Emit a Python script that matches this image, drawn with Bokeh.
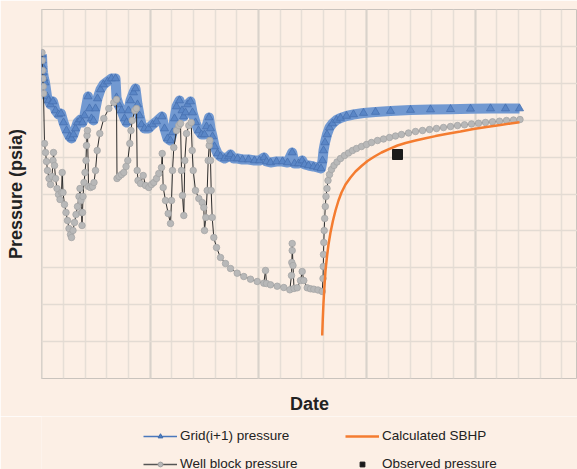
from bokeh.plotting import figure
from bokeh.layouts import column
from bokeh.models import (Range1d, FixedTicker, Legend, LegendItem)
from bokeh.embed import file_html
from bokeh.resources import INLINE

# ---- data (day index, pressure psia) ----
grid_day = [0.5, 0.7, 1, 1.5, 2.5, 3.5, 5.5, 7, 9, 11.5, 14, 17, 19.5, 22, 25, 28, 30, 32, 34, 36,
            39, 41, 43, 46.5, 48, 50, 52, 54, 56, 59, 62, 66, 70, 74, 75, 77, 80, 83, 85, 87,
            89, 92, 94, 96, 98, 100, 103, 107, 111, 115, 120.5, 123, 126, 129, 131, 133, 135, 138, 140.5, 142,
            144, 146, 149, 151, 154, 157, 160, 163, 165, 167.5, 169, 171, 173, 176, 179, 183, 187, 189, 192, 196,
            201, 207, 213, 218, 222.5, 225, 229, 235, 241, 246, 250.7, 253, 257, 260.7, 263, 267, 272, 276, 279.5, 281,
            282, 283.5, 285.5, 288, 291, 295, 299, 305, 312, 322, 334, 349, 369, 389, 409, 429, 449, 464, 478]
grid_psia = [1346, 1340, 1334, 1328, 1322, 1318, 1304, 1300, 1296, 1299, 1290, 1286, 1287, 1278, 1270, 1264, 1262, 1266, 1272, 1278,
             1281, 1278, 1285, 1304, 1292, 1282, 1280, 1292, 1302, 1311, 1316, 1319, 1322, 1322, 1303, 1296, 1290, 1282, 1278, 1290,
             1300, 1308, 1312, 1296, 1285, 1276, 1272, 1272, 1276, 1279, 1284, 1272, 1262, 1260, 1268, 1282, 1294, 1300, 1290, 1284,
             1288, 1296, 1299, 1288, 1278, 1270, 1266, 1266, 1274, 1283, 1272, 1264, 1254, 1247, 1244, 1242, 1244, 1246, 1242, 1242,
             1241, 1241, 1240, 1240, 1243, 1239, 1238, 1239, 1239, 1238, 1248, 1237, 1237, 1240, 1236, 1235, 1234, 1233, 1232, 1240,
             1250, 1258, 1266, 1273, 1277, 1280.5, 1282.5, 1284.5, 1286, 1287.5, 1288.5, 1289.5, 1290.5, 1291, 1291.3, 1291.7, 1292, 1292, 1292]

well_day = [0.5, 0.7, 1, 1.3, 1.7, 2, 3, 4, 5, 6, 7.5, 9, 10.5, 11.5, 12, 13, 14, 15.5, 17, 18.5,
            20, 20.7, 21.5, 23, 24.5, 26, 27.5, 29, 30, 31.5, 33, 34.5, 36, 37.5, 38.5, 39.5, 40, 40.5, 41, 41.5,
            42.5, 43.5, 44.5, 45, 45.5, 46, 47, 49, 51, 52.5, 54, 55.7, 58.3, 62.3, 67.3, 72.3, 75, 75.5, 77.5, 80,
            82.3, 84.5, 86.3, 88.3, 89.5, 90.7, 93.3, 95, 95.7, 96.5, 99, 101.7, 104, 107.3, 110, 112.3, 115, 117.3, 120, 120.7,
            121.7, 124, 126.7, 129, 130, 131, 132.3, 135, 137.3, 139, 140, 141, 142.3, 143.3, 145, 147.3, 149.7, 150.7, 151.7, 154,
            157.3, 160.7, 162.3, 163, 164.3, 165.7, 166.7, 167.7, 168.3, 169, 169.7, 170.7, 172.3, 175, 179, 184, 189, 195.7, 202.3, 209,
            215.7, 222.3, 224, 225, 229, 235.7, 242.3, 248.3, 250, 250.3, 250.7, 250.7, 251.5, 252.5, 255.7, 259, 260.7, 262.3, 265.7, 269,
            272.3, 276.5, 280.7, 281.5, 281.8, 282, 282.3, 282.7, 283.2, 283.8, 284.5, 285.5, 286.5, 288, 290, 292.5, 295.5, 299, 303, 307,
            311, 315, 320, 325, 330, 336, 342, 348, 354, 360, 367, 374, 381, 388, 395, 402, 409, 416, 423, 430,
            437, 444, 451, 458, 465, 472, 478.5]
well_psia = [1348, 1340, 1330, 1322, 1314, 1307, 1257, 1248, 1239, 1230, 1222, 1216, 1224, 1240, 1248, 1235, 1222, 1212, 1206, 1201,
             1208, 1228, 1208, 1196, 1188, 1180, 1172, 1166, 1163, 1170, 1178, 1186, 1194, 1204, 1212, 1200, 1188, 1175, 1188, 1204,
             1218, 1228, 1240, 1255, 1265, 1270, 1214, 1213, 1214, 1218, 1230, 1250, 1267, 1282, 1292, 1298, 1301, 1222, 1224, 1226,
             1228, 1234, 1240, 1257, 1270, 1280, 1290, 1292, 1230, 1220, 1217, 1225, 1215, 1213, 1216, 1218, 1222, 1227, 1233, 1247,
             1213, 1200, 1187, 1177, 1200, 1230, 1253, 1270, 1275, 1277, 1230, 1205, 1185, 1240, 1267, 1275, 1278, 1250, 1230, 1210,
             1202, 1198, 1193, 1170, 1183, 1210, 1240, 1255, 1260, 1240, 1210, 1183, 1163, 1153, 1143, 1137, 1132, 1127.3, 1124, 1121.3,
             1119, 1117.3, 1130, 1117, 1115.7, 1114.3, 1113, 1110.7, 1125, 1138, 1150, 1157, 1135, 1112, 1112.7, 1120, 1129, 1120, 1112.7, 1111.7,
             1111.3, 1110.5, 1109, 1122, 1134, 1146, 1158, 1170, 1182, 1194, 1204, 1212, 1220, 1226, 1231, 1235, 1238.5, 1242, 1245, 1247.5,
             1250, 1252, 1254, 1256, 1258, 1260, 1261.5, 1263, 1264.5, 1266, 1267.5, 1269, 1270, 1271, 1272, 1273, 1274, 1275, 1275.7, 1276.5,
             1277.2, 1278, 1278.7, 1279.3, 1280, 1280.5, 1281]

sbhp_day = [280.7, 281.3, 282, 283, 284, 285.5, 287, 289, 291.5, 294, 297, 300, 304, 309, 314, 320,
            326, 333, 340, 348, 356, 364, 374, 384, 394, 406, 419, 432, 445, 459, 469, 478]
sbhp_psia = [1065, 1082, 1098, 1115, 1130, 1144, 1156, 1168, 1180, 1190, 1200, 1208, 1216, 1223, 1229, 1234.5,
             1239.5, 1244, 1248, 1251.7, 1255, 1257.5, 1260, 1262.2, 1264.4, 1266.7, 1269, 1271.5, 1273.5, 1275.5, 1277, 1278.2]

obs_day = [356]
obs_psia = [1246]

labels = ["Grid(i+1) pressure", "Well block pressure", "Calculated SBHP", "Observed pressure"]

# ---- styling ----
BG = "#fcefe5"
FONT = "Liberation Sans"
BLUE = "#5a86c6"
BAND = "#7299d1"
GRAY = "#b8b8b8"
ORANGE = "#f47c30"

x0, x1 = 0, 536
y0, y1 = 1022, 1391
xstep = 21.67
ystep = 36.9

p = figure(frame_width=536, frame_height=369, x_range=Range1d(x0, x1), y_range=Range1d(y0, y1),
           output_backend="svg", toolbar_location=None,
           min_border_left=41, min_border_right=0, min_border_top=9, min_border_bottom=36,
           background_fill_color=BG, border_fill_color=BG,
           outline_line_color="#c9c3bd", outline_line_width=1)

minor_x = [0.3 + k * xstep for k in range(25)]
major_x = [minor_x[k] for k in range(0, 25, 5)]
all_y = [y0 + k * ystep for k in range(11)]

p.xgrid.ticker = FixedTicker(ticks=major_x, minor_ticks=minor_x)
p.xgrid.grid_line_color = "#d9d2cb"
p.xgrid.grid_line_width = 2
p.xgrid.minor_grid_line_color = "#e6ded6"
p.xgrid.minor_grid_line_width = 1.5
p.ygrid.ticker = FixedTicker(ticks=all_y)
p.ygrid.grid_line_color = "#e3dbd3"
p.ygrid.grid_line_width = 1.5

for ax in (p.xaxis[0], p.yaxis[0]):
    ax.ticker = FixedTicker(ticks=[])
    ax.axis_line_color = None
    ax.major_tick_line_color = None
    ax.minor_tick_line_color = None
    ax.major_tick_out = 0
    ax.major_label_text_font_size = "0px"
    ax.axis_label_text_font = FONT
    ax.axis_label_text_font_style = "bold"
    ax.axis_label_text_font_size = "18px"
    ax.axis_label_text_color = "#222222"

p.xaxis.axis_label = "Date"
p.yaxis.axis_label = "Pressure (psia)"
p.xaxis.axis_label_standoff = 15
p.yaxis.axis_label_standoff = 16

# Grid(i+1) pressure: dense triangles forming a band
p.line(grid_day, grid_psia, line_color=BAND, line_width=10, line_join="round")
p.scatter(grid_day, grid_psia, marker="triangle", size=8, fill_color=BLUE, line_color="#4670b0", line_width=0.8)

# Well block pressure
p.line(well_day, well_psia, line_color="#2b2b2b", line_width=1)
p.scatter(well_day, well_psia, marker="circle", size=6.5, fill_color=GRAY, line_color="#a6a6a6", line_width=0.8)

# Calculated SBHP
p.line(sbhp_day, sbhp_psia, line_color=ORANGE, line_width=2.5)

# Observed pressure
p.scatter(obs_day, obs_psia, marker="square", size=10, fill_color="#1a1a1a", line_color="#1a1a1a")

# ---- legend strip below the chart (same series, drawn outside this strip's ranges) ----
lf = figure(width=577, height=55, x_range=Range1d(-2, -1), y_range=Range1d(-2, -1),
            output_backend="svg", toolbar_location=None,
            x_axis_location=None, y_axis_location=None,
            min_border_left=0, min_border_right=0, min_border_top=0, min_border_bottom=0,
            background_fill_color=BG, border_fill_color=BG, outline_line_color=None)
lf.xgrid.visible = False
lf.ygrid.visible = False

lg1a = lf.line(grid_day, grid_psia, line_color="#4a78bd", line_width=1.5)
lg1b = lf.scatter(grid_day, grid_psia, marker="triangle", size=8, fill_color="#4f7fc0", line_color="#3f6cae")
lg2a = lf.line(well_day, well_psia, line_color="#555555", line_width=1.5)
lg2b = lf.scatter(well_day, well_psia, marker="circle", size=4.5, fill_color=GRAY, line_color="#a0a0a0")
lg3 = lf.line(sbhp_day, sbhp_psia, line_color=ORANGE, line_width=2.5)
lg4 = lf.scatter(obs_day, obs_psia, marker="square", size=9, fill_color="#1a1a1a", line_color="#1a1a1a")

legend = Legend(items=[LegendItem(label=labels[0], renderers=[lg1a, lg1b]),
                       LegendItem(label=labels[1], renderers=[lg2a, lg2b]),
                       LegendItem(label=labels[2], renderers=[lg3]),
                       LegendItem(label=labels[3], renderers=[lg4])],
                ncols=2, location=(102, 0), padding=0, spacing=13, margin=0,
                glyph_width=34, glyph_height=12, label_standoff=3, label_width=152, label_height=12,
                label_text_font=FONT, label_text_font_size="13.5px", label_text_color="#222222",
                background_fill_alpha=0, border_line_alpha=0)
lf.add_layout(legend, "center")

page = column(p, lf, spacing=0)
open("out.html", "w").write(file_html(page, INLINE))
